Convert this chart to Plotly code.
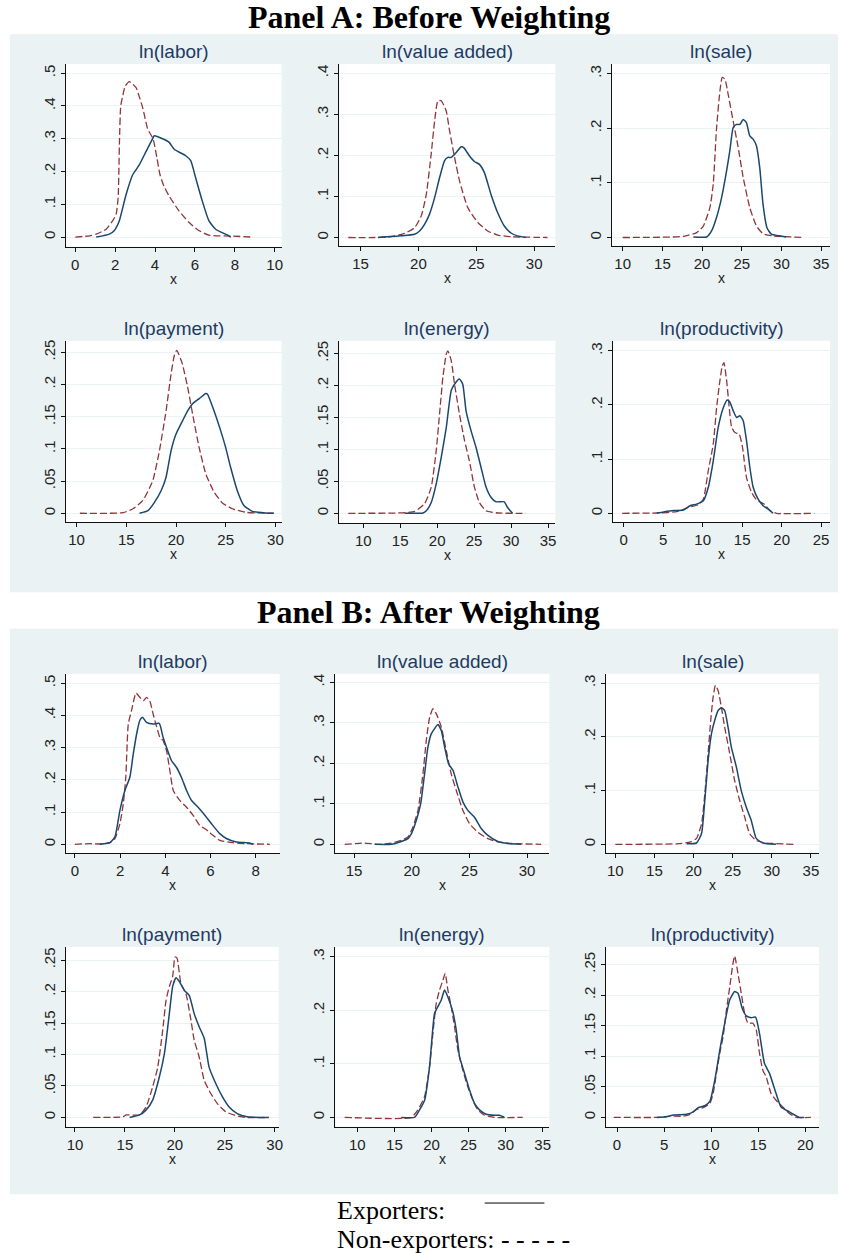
import plotly.graph_objects as go

W, H = 844, 1253

# ---------------- DATA ----------------
titles = ["ln(labor)", "ln(value added)", "ln(sale)", "ln(payment)", "ln(energy)", "ln(productivity)"]

# Panel A : before weighting
A_labor_exp_x = [1.05, 1.71, 1.96, 2.21, 2.55, 2.88, 3.21, 3.54, 3.88, 3.96, 4.38, 4.71, 4.96, 5.54, 5.79, 6.04, 6.37, 6.7, 7.04, 7.7, 7.8]
A_labor_exp_y = [0, 0.009, 0.02, 0.05, 0.13, 0.19, 0.22, 0.26, 0.30, 0.309, 0.30, 0.289, 0.268, 0.248, 0.233, 0.18, 0.11, 0.05, 0.024, 0.004, 0]
A_labor_non_x = [0, 0.72, 1.05, 1.55, 1.88, 2.05, 2.15, 2.22, 2.28, 2.38, 2.5, 2.71, 3.05, 3.2, 3.38, 3.63, 3.9, 4.1, 4.25, 4.45, 4.71, 5.2, 5.7, 6.2, 6.7, 7.87, 8.87]
A_labor_non_y = [0, 0.004, 0.009, 0.024, 0.05, 0.07, 0.12, 0.30, 0.40, 0.43, 0.46, 0.474, 0.456, 0.43, 0.395, 0.33, 0.30, 0.24, 0.19, 0.155, 0.125, 0.08, 0.045, 0.02, 0.006, 0.003, 0]

A_va_exp_x = [16.5, 18.5, 19.67, 20.1, 20.53, 20.96, 21.4, 21.83, 22.26, 22.54, 22.83, 23.26, 23.69, 23.92, 24.4, 24.84, 25.27, 25.7, 26.27, 26.84, 27.42, 28.0, 28.56, 29.28]
A_va_exp_y = [0, 0.004, 0.008, 0.016, 0.032, 0.057, 0.097, 0.146, 0.187, 0.195, 0.195, 0.207, 0.221, 0.219, 0.199, 0.185, 0.178, 0.158, 0.105, 0.061, 0.028, 0.011, 0.004, 0]
A_va_non_x = [13.94, 17.38, 18.81, 19.67, 20.25, 20.68, 21.1, 21.4, 21.68, 21.97, 22.4, 22.69, 23.12, 23.55, 24.26, 25.12, 25.98, 26.84, 28.0, 31.15]
A_va_non_y = [0, 0.001, 0.01, 0.024, 0.053, 0.105, 0.203, 0.284, 0.333, 0.333, 0.308, 0.26, 0.195, 0.138, 0.073, 0.037, 0.016, 0.006, 0.002, 0]

A_sale_exp_x = [18.9, 20.58, 21.2, 21.83, 22.46, 23.09, 23.5, 23.92, 24.34, 24.76, 25.18, 25.6, 26.01, 26.43, 26.85, 27.27, 27.68, 28.18, 28.73, 29.77, 30.6]
A_sale_exp_y = [0.001, 0.001, 0.012, 0.037, 0.073, 0.122, 0.159, 0.201, 0.207, 0.207, 0.216, 0.21, 0.186, 0.18, 0.168, 0.128, 0.061, 0.018, 0.006, 0.003, 0.001]
A_sale_non_x = [10, 17.65, 19.32, 20.16, 20.99, 21.41, 21.83, 22.25, 22.54, 22.88, 23.29, 23.92, 24.55, 25.18, 26.01, 26.85, 27.68, 28.94, 32.9]
A_sale_non_y = [0, 0.002, 0.009, 0.021, 0.055, 0.098, 0.201, 0.268, 0.293, 0.29, 0.262, 0.213, 0.165, 0.11, 0.055, 0.021, 0.007, 0.003, 0]

A_pay_exp_x = [16.33, 17.17, 17.83, 18.5, 19.0, 19.5, 20.0, 20.67, 21.17, 21.67, 22.33, 23.0, 23.17, 23.83, 24.5, 25.0, 25.5, 26.17, 26.83, 27.67, 29.0, 29.83]
A_pay_exp_y = [0, 0.004, 0.017, 0.035, 0.056, 0.097, 0.123, 0.144, 0.159, 0.17, 0.178, 0.186, 0.185, 0.159, 0.128, 0.102, 0.071, 0.035, 0.012, 0.003, 0.0005, 0]
A_pay_non_x = [10.33, 14.67, 15.67, 16.67, 17.67, 18.33, 19.0, 19.5, 19.83, 20.07, 20.6, 21.17, 21.67, 22.33, 23.0, 23.83, 24.67, 25.67, 27.0, 29.83]
A_pay_non_y = [0, 0.001, 0.007, 0.02, 0.051, 0.097, 0.159, 0.216, 0.245, 0.253, 0.234, 0.196, 0.154, 0.102, 0.061, 0.033, 0.016, 0.007, 0.0015, 0]

A_en_exp_x = [15.6, 18.08, 18.53, 19.2, 19.87, 20.55, 21.23, 21.9, 22.35, 23.02, 23.46, 23.91, 24.59, 25.26, 25.93, 26.61, 27.28, 27.96, 29.08, 29.53, 30.2]
A_en_exp_y = [0, 0.0005, 0.004, 0.017, 0.046, 0.0875, 0.134, 0.192, 0.202, 0.21, 0.202, 0.16, 0.129, 0.103, 0.072, 0.041, 0.025, 0.018, 0.018, 0.009, 0]
A_en_non_x = [7.98, 14.71, 16.96, 18.3, 19.2, 19.87, 20.32, 20.77, 21.23, 21.45, 21.9, 22.35, 23.02, 23.7, 24.36, 25.04, 25.71, 26.61, 28.18, 32.0]
A_en_non_y = [0, 0.0005, 0.003, 0.015, 0.041, 0.098, 0.155, 0.2125, 0.249, 0.254, 0.239, 0.202, 0.155, 0.114, 0.082, 0.041, 0.017, 0.004, 0.0005, 0]

A_prod_exp_x = [4.2, 5.04, 6.3, 7.56, 8.4, 9.24, 10.08, 10.71, 11.34, 11.97, 12.61, 13.11, 13.45, 13.87, 14.29, 14.71, 15.13, 15.55, 15.97, 16.39, 17.02, 17.65, 18.28, 18.91]
A_prod_exp_y = [0.0005, 0.0025, 0.005, 0.006, 0.014, 0.017, 0.023, 0.048, 0.097, 0.159, 0.195, 0.209, 0.205, 0.189, 0.177, 0.18, 0.171, 0.134, 0.085, 0.048, 0.026, 0.014, 0.008, 0]
A_prod_non_x = [-0.2, 4.2, 6.72, 8.19, 9.45, 10.08, 10.71, 11.34, 11.76, 12.18, 12.48, 12.69, 13.03, 13.36, 13.66, 14.08, 14.62, 15.04, 15.55, 16.18, 16.81, 17.86, 18.49, 19.33, 24.16]
A_prod_non_y = [0, 0.0005, 0.003, 0.011, 0.016, 0.026, 0.079, 0.128, 0.195, 0.245, 0.272, 0.278, 0.245, 0.195, 0.159, 0.149, 0.146, 0.122, 0.066, 0.039, 0.025, 0.016, 0.005, 0, 0]

# Panel B : after weighting
B_labor_exp_x = [1.1, 1.55, 1.77, 1.99, 2.21, 2.43, 2.58, 2.76, 2.87, 2.99, 3.17, 3.46, 3.73, 3.9, 4.05, 4.27, 4.49, 4.71, 4.94, 5.16, 5.45, 5.75, 6.04, 6.41, 6.7, 7.15, 7.73, 7.88]
B_labor_exp_y = [0, 0.005, 0.023, 0.105, 0.167, 0.208, 0.28, 0.353, 0.384, 0.394, 0.378, 0.373, 0.375, 0.332, 0.301, 0.26, 0.239, 0.208, 0.167, 0.136, 0.115, 0.09, 0.064, 0.033, 0.018, 0.007, 0.004, 0]
B_labor_non_x = [0, 0.66, 1.1, 1.55, 1.77, 1.99, 2.14, 2.25, 2.36, 2.5, 2.7, 2.87, 3.02, 3.17, 3.31, 3.46, 3.58, 3.76, 3.9, 4.05, 4.2, 4.35, 4.64, 4.94, 5.23, 5.52, 5.82, 6.11, 6.41, 7.0, 7.59, 8.62]
B_labor_non_y = [0, 0.002, 0.001, 0.005, 0.018, 0.064, 0.126, 0.208, 0.373, 0.414, 0.469, 0.456, 0.445, 0.456, 0.445, 0.404, 0.373, 0.332, 0.322, 0.291, 0.229, 0.167, 0.136, 0.115, 0.09, 0.059, 0.045, 0.028, 0.012, 0.005, 0.002, 0]

B_va_exp_x = [16.79, 18.23, 19.1, 19.67, 19.96, 20.39, 20.77, 21.11, 21.4, 21.69, 21.98, 22.27, 22.56, 22.85, 23.19, 23.57, 24.0, 24.43, 24.86, 25.44, 26.02, 26.6, 27.46, 28.33, 29.48]
B_va_exp_y = [0, 0, 0.007, 0.014, 0.026, 0.059, 0.1, 0.174, 0.24, 0.273, 0.286, 0.296, 0.281, 0.24, 0.199, 0.183, 0.142, 0.105, 0.084, 0.067, 0.039, 0.022, 0.007, 0.002, 0]
B_va_non_x = [14.19, 15.92, 17.08, 18.23, 19.1, 19.67, 20.1, 20.54, 20.97, 21.26, 21.55, 21.84, 22.12, 22.56, 22.99, 23.42, 23.86, 24.43, 25.01, 25.73, 26.6, 27.46, 28.61, 31.21]
B_va_non_y = [0, 0.003, 0, 0.003, 0.01, 0.018, 0.043, 0.084, 0.174, 0.257, 0.314, 0.335, 0.323, 0.29, 0.232, 0.174, 0.133, 0.084, 0.051, 0.03, 0.014, 0.006, 0.002, 0]

B_sale_exp_x = [19.11, 20.38, 21.02, 21.44, 21.86, 22.29, 22.71, 23.14, 23.56, 23.98, 24.41, 24.83, 25.47, 26.1, 26.74, 27.37, 28.01, 28.86, 30.55]
B_sale_exp_y = [0.001, 0.0025, 0.02, 0.082, 0.156, 0.206, 0.231, 0.249, 0.254, 0.249, 0.218, 0.181, 0.144, 0.1, 0.069, 0.045, 0.011, 0.0025, 0]
B_sale_non_x = [10, 17.84, 19.53, 20.38, 21.02, 21.44, 21.86, 22.2, 22.5, 22.8, 23.14, 23.56, 23.98, 24.62, 25.25, 25.89, 26.53, 27.16, 28.01, 29.28, 32.88]
B_sale_non_y = [0, 0.001, 0.004, 0.011, 0.038, 0.094, 0.169, 0.231, 0.274, 0.296, 0.286, 0.255, 0.218, 0.169, 0.119, 0.082, 0.051, 0.02, 0.007, 0.0025, 0]

B_pay_exp_x = [15.47, 16.47, 17.13, 17.79, 18.46, 18.96, 19.45, 19.78, 20.12, 20.45, 20.95, 21.44, 21.94, 22.44, 22.94, 23.43, 24.1, 24.76, 25.42, 26.25, 27.25, 29.4]
B_pay_exp_y = [0, 0.004, 0.012, 0.028, 0.065, 0.102, 0.165, 0.208, 0.222, 0.216, 0.202, 0.194, 0.165, 0.144, 0.126, 0.08, 0.054, 0.033, 0.017, 0.006, 0.001, 0]
B_pay_non_x = [11.82, 14.81, 15.14, 16.47, 17.13, 17.79, 18.29, 18.79, 19.12, 19.45, 19.78, 20.02, 20.22, 20.61, 21.11, 21.61, 21.94, 22.44, 22.94, 23.6, 24.26, 25.09, 26.09, 27.08, 29.4]
B_pay_non_y = [0, 0.001, 0.004, 0.004, 0.017, 0.049, 0.08, 0.139, 0.186, 0.208, 0.224, 0.255, 0.253, 0.213, 0.197, 0.155, 0.123, 0.096, 0.059, 0.038, 0.022, 0.009, 0.003, 0, 0]

B_en_exp_x = [15.92, 17.72, 18.39, 19.07, 19.74, 20.41, 20.86, 21.31, 21.76, 22.21, 22.88, 23.34, 23.79, 24.46, 25.13, 25.8, 26.47, 27.37, 28.49, 29.16, 29.84]
B_en_exp_y = [0, 0, 0.014, 0.032, 0.095, 0.194, 0.207, 0.219, 0.238, 0.225, 0.197, 0.163, 0.113, 0.082, 0.051, 0.026, 0.014, 0.006, 0.004, 0.004, 0]
B_en_non_x = [8.29, 17.27, 18.17, 19.07, 19.74, 20.19, 20.64, 21.09, 21.54, 21.85, 22.21, 22.66, 23.11, 23.56, 24.23, 24.9, 25.58, 26.25, 27.15, 28.49, 32.31]
B_en_non_y = [0, 0, 0.014, 0.039, 0.095, 0.157, 0.213, 0.238, 0.256, 0.269, 0.238, 0.207, 0.169, 0.126, 0.088, 0.057, 0.032, 0.014, 0.004, 0, 0]

B_prod_exp_x = [4.23, 5.28, 5.99, 7.39, 8.1, 8.63, 9.33, 9.86, 10.39, 10.92, 11.44, 11.97, 12.5, 12.85, 13.31, 13.73, 14.26, 14.72, 15.14, 15.67, 16.2, 16.9, 17.43, 18.31, 19.37, 19.89]
B_prod_exp_y = [0, 0.001, 0.004, 0.005, 0.009, 0.016, 0.019, 0.026, 0.061, 0.11, 0.154, 0.192, 0.206, 0.203, 0.178, 0.166, 0.163, 0.164, 0.137, 0.088, 0.072, 0.039, 0.017, 0.009, 0, 0]
B_prod_non_x = [-0.35, 4.23, 5.63, 7.04, 7.75, 8.45, 9.15, 9.86, 10.21, 10.56, 10.92, 11.27, 11.62, 11.97, 12.32, 12.5, 12.85, 13.2, 13.56, 13.91, 14.44, 14.79, 15.14, 15.49, 15.85, 16.37, 16.9, 17.61, 18.31, 19.01, 20.6]
B_prod_non_y = [0, 0, 0.002, 0.002, 0.005, 0.013, 0.016, 0.023, 0.039, 0.072, 0.105, 0.132, 0.175, 0.213, 0.252, 0.264, 0.235, 0.203, 0.17, 0.154, 0.154, 0.143, 0.105, 0.077, 0.066, 0.039, 0.028, 0.017, 0.0065, 0, 0]

# tick values / labels
xt_labor_A = [0, 2, 4, 6, 8, 10]
xt_labor_B = [0, 2, 4, 6, 8]
xt_va = [15, 20, 25, 30]
xt_10_35 = [10, 15, 20, 25, 30, 35]
xt_10_30 = [10, 15, 20, 25, 30]
xt_prod_A = [0, 5, 10, 15, 20, 25]
xt_prod_B = [0, 5, 10, 15, 20]
yt_50 = [0, 0.1, 0.2, 0.3, 0.4, 0.5]
yl_50 = ["0", ".1", ".2", ".3", ".4", ".5"]
yt_40 = [0, 0.1, 0.2, 0.3, 0.4]
yl_40 = ["0", ".1", ".2", ".3", ".4"]
yt_30 = [0, 0.1, 0.2, 0.3]
yl_30 = ["0", ".1", ".2", ".3"]
yt_25 = [0, 0.05, 0.1, 0.15, 0.2, 0.25]
yl_25 = ["0", ".05", ".1", ".15", ".2", ".25"]

panel_titles = ["Panel A: Before Weighting", "Panel B: After Weighting"]
legend_labels = ["Exporters:", "Non-exporters: - - - - -"]

# ---------------- LAYOUT SPEC (pixels) ----------------
subplots = [
    # (L, R, T, B, xrange, yrange, xticks, yticks, ylabels, title, exp, non)
    (66, 283, 63, 246, [-0.48, 10.35], [-0.0296, 0.528], xt_labor_A, yt_50, yl_50, titles[0], (A_labor_exp_x, A_labor_exp_y), (A_labor_non_x, A_labor_non_y)),
    (341, 558, 63, 245, [13.17, 31.83], [-0.0202, 0.4226], xt_va, yt_40, yl_40, titles[1], (A_va_exp_x, A_va_exp_y), (A_va_non_x, A_va_non_y)),
    (615, 834, 63, 245, [8.66, 36.13], [-0.0152, 0.3177], xt_10_35, yt_30, yl_30, titles[2], (A_sale_exp_x, A_sale_exp_y), (A_sale_non_x, A_sale_non_y)),
    (66, 283, 340, 521.7, [8.9, 30.63], [-0.014, 0.268], xt_10_30, yt_25, yl_25, titles[3], (A_pay_exp_x, A_pay_exp_y), (A_pay_non_x, A_pay_non_y)),
    (341, 558, 340, 522.3, [6.77, 35.99], [-0.015, 0.270], xt_10_35, yt_25, yl_25, titles[4], (A_en_exp_x, A_en_exp_y), (A_en_non_x, A_en_non_y)),
    (616, 834, 340, 521.7, [-1.35, 26.13], [-0.0166, 0.3186], xt_prod_A, yt_30, yl_30, titles[5], (A_prod_exp_x, A_prod_exp_y), (A_prod_non_x, A_prod_non_y)),
    (66, 281, 673.3, 852.7, [-0.41, 9.06], [-0.027, 0.529], xt_labor_B, yt_50, yl_50, titles[0], (B_labor_exp_x, B_labor_exp_y), (B_labor_non_x, B_labor_non_y)),
    (337, 552, 673.3, 852.3, [13.38, 31.93], [-0.0205, 0.4215], xt_va, yt_40, yl_40, titles[1], (B_va_exp_x, B_va_exp_y), (B_va_non_x, B_va_non_y)),
    (609, 823, 673.3, 852.3, [8.82, 36.05], [-0.0154, 0.3174], xt_10_35, yt_30, yl_30, titles[2], (B_sale_exp_x, B_sale_exp_y), (B_sale_non_x, B_sale_non_y)),
    (66, 280, 946.7, 1126.7, [9.07, 30.4], [-0.0149, 0.271], xt_10_30, yt_25, yl_25, titles[3], (B_pay_exp_x, B_pay_exp_y), (B_pay_non_x, B_pay_non_y)),
    (337, 552, 946.7, 1126.7, [7.04, 35.9], [-0.0176, 0.3185], xt_10_35, yt_30, yl_30, titles[4], (B_en_exp_x, B_en_exp_y), (B_en_non_x, B_en_non_y)),
    (609, 823, 946.7, 1126.7, [-1.16, 21.47], [-0.0154, 0.2787], xt_prod_B, yt_25, yl_25, titles[5], (B_prod_exp_x, B_prod_exp_y), (B_prod_non_x, B_prod_non_y)),
]

EXP_COLOR = "#1a476f"
NON_COLOR = "#90353b"
PANEL_BG = "#eaf2f3"
GRID = "#eaf2f3"
SANS = "Liberation Sans, Arial, sans-serif"
SERIF = "Liberation Serif, Times New Roman, serif"
TITLE_COLOR = "#1e3a63"
TICK_COLOR = "#222222"

def px(xp):
    return xp / W

def py(yp):
    return 1 - yp / H

fig = go.Figure()
shapes = []
annotations = []

# panel backgrounds
shapes.append(dict(type="rect", xref="paper", yref="paper", x0=px(10), x1=px(842), y0=py(591.7), y1=py(33.3),
                   fillcolor=PANEL_BG, line=dict(width=0), layer="below"))
shapes.append(dict(type="rect", xref="paper", yref="paper", x0=px(10), x1=px(842), y0=py(1194.3), y1=py(628.3),
                   fillcolor=PANEL_BG, line=dict(width=0), layer="below"))

layout_axes = {}
for i, (L, R, T, B, xr, yr, xt, yt, yl, title, exp, non) in enumerate(subplots):
    n = i + 1
    xa = "x" if n == 1 else f"x{n}"
    ya = "y" if n == 1 else f"y{n}"
    shapes.append(dict(type="rect", xref="paper", yref="paper", x0=px(L), x1=px(R), y0=py(B), y1=py(T),
                       fillcolor="white", line=dict(width=0), layer="below"))
    fig.add_trace(go.Scatter(x=non[0], y=non[1], xaxis=xa, yaxis=ya, mode="lines",
                             line=dict(color=NON_COLOR, width=1.3, dash="7px,3px", shape="spline", smoothing=0.5),
                             showlegend=False, hoverinfo="skip"))
    fig.add_trace(go.Scatter(x=exp[0], y=exp[1], xaxis=xa, yaxis=ya, mode="lines",
                             line=dict(color=EXP_COLOR, width=1.5, shape="spline", smoothing=0.5),
                             showlegend=False, hoverinfo="skip"))
    xkey = "xaxis" if n == 1 else f"xaxis{n}"
    ykey = "yaxis" if n == 1 else f"yaxis{n}"
    layout_axes[xkey] = dict(domain=[px(L), px(R)], range=xr, anchor=ya, tickmode="array", tickvals=xt,
                             ticktext=[str(v) for v in xt], showgrid=False, zeroline=False,
                             showline=True, linecolor="#111111", linewidth=1.3,
                             ticks="outside", ticklen=4, tickcolor="#111111", tickwidth=1.2,
                             tickfont=dict(family=SANS, size=15, color=TICK_COLOR), fixedrange=True)
    layout_axes[ykey] = dict(domain=[py(B), py(T)], range=yr, anchor=xa, tickmode="array", tickvals=yt,
                             ticktext=yl, tickangle=-90, showgrid=True, gridcolor=GRID, gridwidth=1.2,
                             zeroline=False, showline=True, linecolor="#111111", linewidth=1.3,
                             ticks="outside", ticklen=4, tickcolor="#111111", tickwidth=1.2,
                             tickfont=dict(family=SANS, size=15, color=TICK_COLOR), fixedrange=True)
    annotations.append(dict(text=title, xref="paper", yref="paper", x=px((L + R) / 2), y=py(T - 12),
                            xanchor="center", yanchor="middle", showarrow=False,
                            font=dict(family=SANS, size=19, color=TITLE_COLOR)))
    annotations.append(dict(text="x", xref="paper", yref="paper", x=px((L + R) / 2), y=py(B + 32),
                            xanchor="center", yanchor="middle", showarrow=False,
                            font=dict(family=SANS, size=14, color=TICK_COLOR)))

# panel titles
annotations.append(dict(text="<b>" + panel_titles[0] + "</b>", xref="paper", yref="paper", x=px(431), y=py(16.5),
                        xanchor="center", yanchor="middle", showarrow=False,
                        font=dict(family=SERIF, size=32, color="black")))
annotations.append(dict(text="<b>" + panel_titles[1] + "</b>", xref="paper", yref="paper", x=px(431), y=py(611),
                        xanchor="center", yanchor="middle", showarrow=False,
                        font=dict(family=SERIF, size=32, color="black")))

# legend text
annotations.append(dict(text=legend_labels[0], xref="paper", yref="paper", x=px(337), y=py(1210),
                        xanchor="left", yanchor="middle", showarrow=False,
                        font=dict(family=SERIF, size=26, color="black")))
annotations.append(dict(text=legend_labels[1], xref="paper", yref="paper", x=px(337), y=py(1239),
                        xanchor="left", yanchor="middle", showarrow=False,
                        font=dict(family=SERIF, size=26, color="black")))
shapes.append(dict(type="line", xref="paper", yref="paper", x0=px(487), x1=px(547), y0=py(1203), y1=py(1203),
                   line=dict(color="black", width=1)))

fig.update_layout(width=W, height=H, margin=dict(l=0, r=0, t=0, b=0),
                  paper_bgcolor="white", plot_bgcolor="rgba(0,0,0,0)",
                  shapes=shapes, annotations=annotations, showlegend=False, **layout_axes)

fig.write_html("out.html", config={"displayModeBar": False},
               post_script="document.body.style.margin='0';document.body.style.padding='0';")
